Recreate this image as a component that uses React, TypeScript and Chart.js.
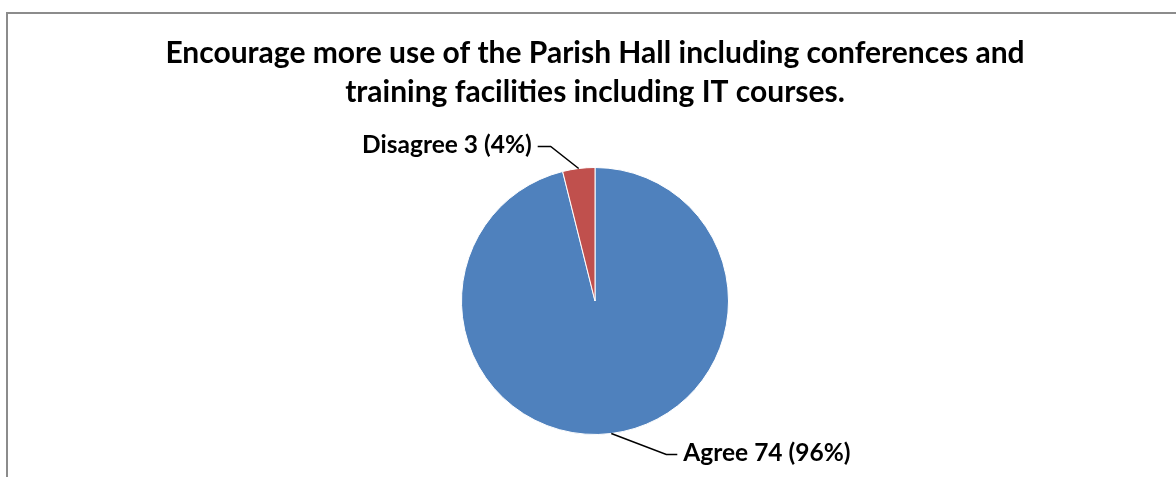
import React, { useEffect, useRef } from "react";
import { Chart, registerables } from "chart.js";

Chart.register(...registerables);

const titleLines = [
  "Encourage more use of the Parish Hall including conferences and",
  "training facilities including IT courses.",
];
const categories = ["Agree", "Disagree"];
const counts = [74, 3];
const sliceColors = ["#4F81BD", "#C0504D"];

const FONT = "Lato, 'Open Sans', sans-serif";

const decorPlugin = {
  id: "decor",
  afterDraw(chart: any) {
    const ctx = chart.ctx as CanvasRenderingContext2D;
    const W = chart.width;
    ctx.save();
    // frame
    ctx.strokeStyle = "#8c8c8c";
    ctx.lineWidth = 2;
    ctx.beginPath();
    ctx.moveTo(7, chart.height);
    ctx.lineTo(7, 13);
    ctx.lineTo(W, 13);
    ctx.stroke();

    // title
    ctx.fillStyle = "#000";
    ctx.textAlign = "center";
    ctx.textBaseline = "alphabetic";
    ctx.font = `bold 30px ${FONT}`;
    const cx = 595;
    ctx.fillText(titleLines[0], cx, 63);
    ctx.fillText(titleLines[1], cx, 102);

    // labels with leader lines
    const meta = chart.getDatasetMeta(0);
    const total = counts.reduce((a, b) => a + b, 0);
    ctx.font = `bold 24.5px ${FONT}`;
    ctx.lineWidth = 1.5;
    ctx.strokeStyle = "#000";
    meta.data.forEach((arc: any, i: number) => {
      const p = arc.getProps(["x", "y", "startAngle", "endAngle", "outerRadius"], true);
      const mid = (p.startAngle + p.endAngle) / 2;
      const ex = p.x + Math.cos(mid) * p.outerRadius;
      const ey = p.y + Math.sin(mid) * p.outerRadius;
      const right = Math.cos(mid) >= 0 ? 1 : -1;
      const down = Math.sin(mid) >= 0;
      const elbowX = ex + right * (down ? 55 : 28);
      const elbowY = ey + (down ? 21 : -22);
      const endX = elbowX + right * (down ? 11 : 13);
      ctx.beginPath();
      ctx.moveTo(ex, ey);
      ctx.lineTo(elbowX, elbowY);
      ctx.lineTo(endX, elbowY);
      ctx.stroke();
      const pct = Math.round((counts[i] / total) * 100);
      const text = `${categories[i]} ${counts[i]} (${pct}%)`;
      ctx.textAlign = right > 0 ? "left" : "right";
      ctx.textBaseline = "middle";
      ctx.fillText(text, endX + right * 6, elbowY - 1);
    });
    ctx.restore();
  },
};

export default function App() {
  const ref = useRef<HTMLCanvasElement | null>(null);
  useEffect(() => {
    document.body.style.margin = "0";
    const canvas = ref.current!;
    const chart = new Chart(canvas, {
      type: "pie",
      data: {
        labels: categories,
        datasets: [
          {
            data: counts,
            backgroundColor: sliceColors,
            borderColor: "#ffffff",
            borderWidth: 1,
          },
        ],
      },
      options: {
        responsive: false,
        animation: false,
        layout: { padding: { left: 461, right: 447, top: 167, bottom: 42 } },
        plugins: {
          legend: { display: false },
          title: { display: false },
          tooltip: { enabled: false },
        },
      },
      plugins: [decorPlugin],
    });
    return () => chart.destroy();
  }, []);
  return (
    <div style={{ width: 1176, height: 477, background: "#fff" }}>
      <canvas ref={ref} width={1176} height={477} style={{ display: "block" }} />
    </div>
  );
}
